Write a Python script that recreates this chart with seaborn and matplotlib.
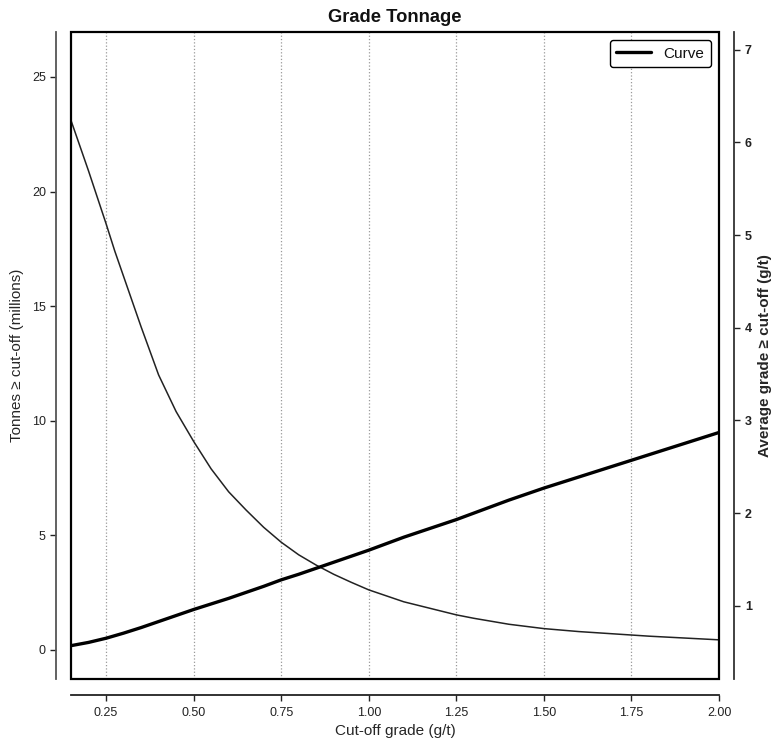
import matplotlib
matplotlib.use("Agg")
import matplotlib.pyplot as plt
from matplotlib.patches import Rectangle
import seaborn as sns

# cut-off grade vs tonnes above cut-off (millions)
cutoff_t = [0.15, 0.20, 0.25, 0.275, 0.30, 0.35, 0.40, 0.45, 0.50, 0.55, 0.60,
            0.65, 0.70, 0.75, 0.80, 0.85, 0.90, 0.95, 1.00, 1.10, 1.20, 1.25,
            1.30, 1.40, 1.50, 1.60, 1.70, 1.75, 1.80, 1.90, 2.00]
tonnes = [23.1, 20.9, 18.6, 17.4, 16.3, 14.1, 12.0, 10.4, 9.1, 7.9, 6.9,
          6.1, 5.35, 4.7, 4.15, 3.7, 3.3, 2.95, 2.62, 2.1, 1.72, 1.53,
          1.38, 1.12, 0.93, 0.80, 0.70, 0.65, 0.60, 0.52, 0.44]

# cut-off grade vs average grade above cut-off (g/t)
cutoff_g = [0.15, 0.20, 0.25, 0.30, 0.35, 0.40, 0.50, 0.60, 0.70, 0.75, 0.80,
            0.90, 1.00, 1.10, 1.25, 1.40, 1.50, 1.60, 1.75, 1.90, 2.00]
grade = [0.57, 0.605, 0.65, 0.705, 0.765, 0.83, 0.96, 1.08, 1.21, 1.28, 1.34,
         1.47, 1.60, 1.74, 1.93, 2.14, 2.27, 2.39, 2.57, 2.75, 2.87]

x_ticks = [0.25, 0.50, 0.75, 1.00, 1.25, 1.50, 1.75, 2.00]
x_tick_labels = ["0.25", "0.50", "0.75", "1.00", "1.25", "1.50", "1.75", "2.00"]
left_ticks = [0, 5, 10, 15, 20, 25]
right_ticks = [1, 2, 3, 4, 5, 6, 7]

sns.set_style("ticks")
plt.rcParams["font.family"] = ["Liberation Sans", "DejaVu Sans"]
plt.rcParams["text.color"] = "#111111"

fig = plt.figure(figsize=(7.77, 7.43), dpi=100)
ax = fig.add_axes([0.0914, 0.0861, 0.834, 0.8708])

sns.lineplot(x=cutoff_t, y=tonnes, ax=ax, color="#222222", linewidth=1.1)
ax.set_xlim(0.15, 2.0)
ax.set_ylim(-1.27, 26.96)
ax.set_xticks(x_ticks)
ax.set_xticklabels(x_tick_labels)
ax.set_yticks(left_ticks)
ax.grid(axis="x", linestyle=":", color="#999999", linewidth=0.9)
ax.grid(axis="y", visible=False)

# detached R-style axes
ax.spines["top"].set_visible(False)
ax.spines["right"].set_visible(False)
ax.spines["left"].set_position(("outward", 10.8))
ax.spines["bottom"].set_position(("outward", 11.5))
ax.spines["left"].set_color("#555555")
ax.spines["left"].set_linewidth(1.3)
ax.spines["bottom"].set_color("#222222")
ax.spines["bottom"].set_linewidth(1.3)
ax.tick_params(axis="both", direction="out", length=4.3, width=1,
               labelsize=9, colors="#222222", pad=3)
ax.tick_params(axis="x", pad=4)

# box around the plotting region
ax.add_patch(Rectangle((0, 0), 1, 1, transform=ax.transAxes, fill=False,
                       edgecolor="black", linewidth=1.6, clip_on=False, zorder=5))

ax2 = ax.twinx()
sns.lineplot(x=cutoff_g, y=grade, ax=ax2, color="black", linewidth=2.4,
             label="Curve")
ax2.set_ylim(0.21, 7.19)
ax2.set_yticks(right_ticks)
for side in ["left", "top", "bottom"]:
    ax2.spines[side].set_visible(False)
ax2.spines["right"].set_position(("outward", 10.8))
ax2.spines["right"].set_color("#333333")
ax2.spines["right"].set_linewidth(1.3)
ax2.tick_params(axis="y", direction="out", length=4.3, width=1,
                labelsize=9, colors="#222222", pad=3.5)
for lbl in ax2.get_yticklabels():
    lbl.set_fontweight("bold")

leg = ax2.legend(loc="upper right", frameon=True, fancybox=True, fontsize=11,
                 handlelength=2.3, borderpad=0.4, borderaxespad=0.55)
leg.get_frame().set_edgecolor("black")
leg.get_frame().set_linewidth(1.0)
leg.get_frame().set_alpha(1)

ax.set_xlabel("Cut-off grade (g/t)", fontsize=11, labelpad=4)
ax.set_ylabel("Tonnes ≥ cut-off (millions)", fontsize=11, labelpad=6)
ax2.set_ylabel("Average grade ≥ cut-off (g/t)", fontsize=11,
               fontweight="bold", labelpad=4)
ax.set_title("Grade Tonnage", fontsize=13.2, fontweight="bold", pad=7)

fig.savefig("out.png", dpi=100)
